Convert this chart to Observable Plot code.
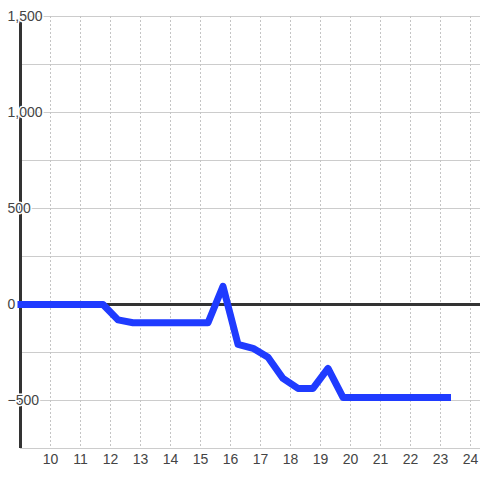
<!DOCTYPE html>
<html><head><meta charset="utf-8">
<script src="https://cdn.jsdelivr.net/npm/d3@7"></script>
<script src="https://cdn.jsdelivr.net/npm/@observablehq/plot@0.6"></script>
<style>body{margin:0;background:#fff}</style>
</head><body><div id="chart"></div>
<script>
const hours = [8.9, 11.75, 12.25, 12.75, 13.25, 13.75, 14.25, 14.75, 15.25, 15.75, 16.25, 16.75, 17.25, 17.75, 18.25, 18.75, 19.25, 19.75, 20.25, 20.75, 21.25, 21.75, 22.25, 22.75, 23.35];
const values = [0, 0, -80, -95, -95, -95, -95, -95, -95, 95, -208, -228, -275, -385, -437, -437, -333, -484, -484, -484, -484, -484, -484, -484, -484];
const xTicks = [10, 11, 12, 13, 14, 15, 16, 17, 18, 19, 20, 21, 22, 23, 24];
const yTicks = [1500, 1000, 500, 0, -500];
const yGrid = [1500, 1250, 1000, 750, 500, 250, -250, -500, -750];

const data = hours.map((h, i) => ({h, v: values[i]}));
const fmt = d3.format(",");

const chart = Plot.plot({
  width: 480, height: 480,
  marginLeft: 20, marginRight: 0, marginTop: 16, marginBottom: 32,
  x: {domain: [9, 24.3333], label: null},
  y: {domain: [-750, 1500], axis: null},
  style: {fontFamily: "'Liberation Sans', Arial, sans-serif", fontSize: "14px", color: "#444", background: "#fff"},
  marks: [
    Plot.ruleY(yGrid, {stroke: "#ccc", strokeWidth: 1}),
    Plot.ruleX(xTicks, {stroke: "#c4c4c4", strokeDasharray: "2,2"}),
    Plot.ruleY([0], {stroke: "#333", strokeWidth: 3}),
    Plot.ruleX([9], {stroke: "#333", strokeWidth: 3}),
    Plot.line(data, {x: "h", y: "v", stroke: "#1f3bff", strokeWidth: 7, strokeLinecap: "butt"}),
    Plot.text(yTicks, {x: () => 9, y: d => d, text: d => fmt(d), textAnchor: "start", dx: -13, fill: "#444", stroke: "white", strokeWidth: 3, fontSize: 14}),
    Plot.axisX(xTicks, {tickSize: 0, tickPadding: 6, fontSize: 14, color: "#444", label: null})
  ]
});
document.getElementById("chart").append(chart);
</script>
</body></html>
